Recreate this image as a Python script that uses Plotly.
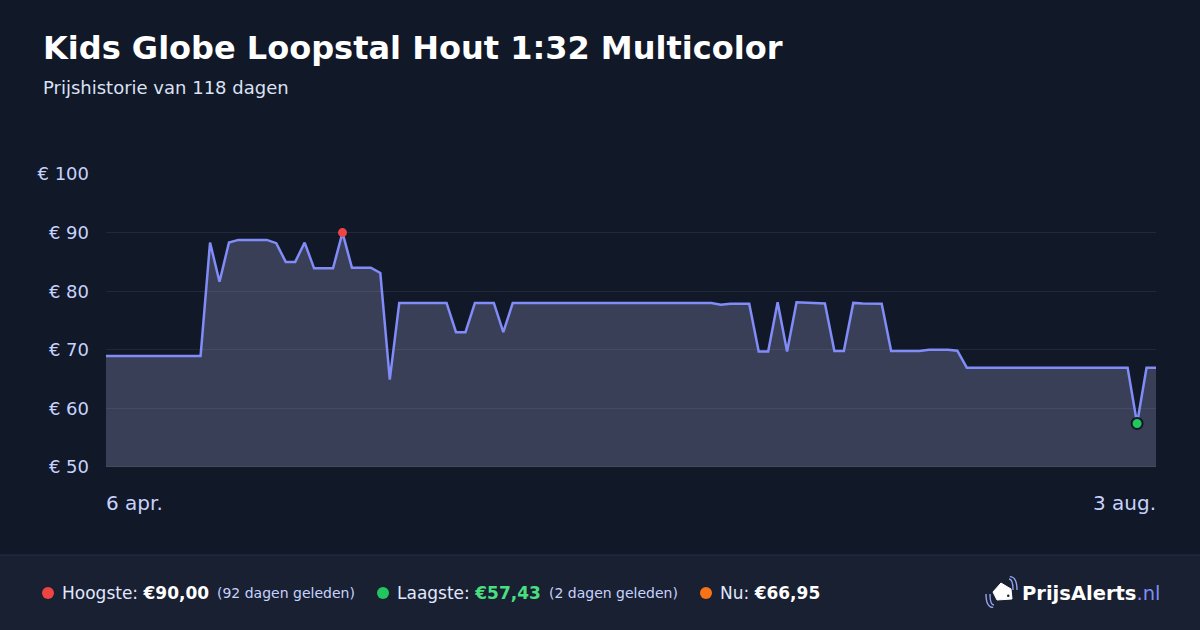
import plotly.graph_objects as go

# price history (sample index, price in euro)
sample_idx = [0, 10, 11, 12, 13, 14, 17, 18, 19, 20, 21, 22, 24, 25, 26, 28, 29, 30, 31, 36,
              37, 38, 39, 41, 42, 43, 64, 65, 66, 68, 69, 70, 71, 72, 73, 74, 75, 76, 77, 78,
              79, 80, 82, 83, 86, 87, 89, 90, 91, 108, 109, 110, 111]
prices = [68.95, 68.95, 88.3, 81.6, 88.3, 88.75, 88.75, 88.2, 85.0, 85.0,
          88.3, 83.9, 83.9, 90.0, 84.0, 84.0, 83.1, 64.9, 78.0, 78.0,
          73.0, 73.0, 78.0, 78.0, 73.0, 78.0, 78.0, 77.7, 77.85, 77.85,
          69.7, 69.7, 78.1, 69.7, 78.1, 78.05, 77.9, 77.9, 69.8, 69.8,
          78.0, 77.9, 77.85, 69.8, 69.8, 70.0, 70.0, 69.85, 66.95, 66.95,
          57.43, 66.95, 66.95]
date_labels = ["6 apr.", "3 aug."]
y_ticks = [50, 60, 70, 80, 90, 100]
y_labels = [f"€ {v}" for v in y_ticks]

title = "Kids Globe Loopstal Hout 1:32 Multicolor"
subtitle = "Prijshistorie van 118 dagen"

BG = "#111827"
FOOT = "#182031"
TXT = "#c7d2fe"

# plot area in pixels
L, R, T, B = 106, 1156, 174, 467


def px(x):
    return (x - L) / (R - L)


def py(y):
    return (B - y) / (B - T)


hi = prices.index(max(prices))
lo = prices.index(min(prices))

fig = go.Figure()
fig.add_trace(go.Scatter(
    x=sample_idx, y=prices, mode="lines",
    line=dict(color="#818cf8", width=2.5),
    fill="tozeroy", fillcolor="rgba(157,154,202,0.3)",
    hoverinfo="skip", showlegend=False,
))
fig.add_trace(go.Scatter(
    x=[sample_idx[hi]], y=[prices[hi]], mode="markers",
    marker=dict(color="#ef4444", size=9, line=dict(width=0)),
    showlegend=False,
))
fig.add_trace(go.Scatter(
    x=[sample_idx[lo]], y=[prices[lo]], mode="markers",
    marker=dict(color="#22c55e", size=11, line=dict(color=BG, width=2)),
    showlegend=False,
))

shapes = [
    dict(type="rect", xref="paper", yref="paper", x0=px(0), x1=px(1200),
         y0=py(630), y1=py(555), fillcolor=FOOT, line=dict(width=0), layer="below"),
    dict(type="line", xref="paper", yref="paper", x0=px(0), x1=px(1200),
         y0=py(555), y1=py(555), line=dict(color="#252e4a", width=1)),
    # base line of the chart
    dict(type="line", xref="paper", yref="y", x0=0, x1=1, y0=y_ticks[0], y1=y_ticks[0],
         line=dict(color="#4b5263", width=1.5)),
]
# legend dots in footer
for cx, col in [(48, "#ef4444"), (383, "#22c55e"), (706, "#f97316")]:
    shapes.append(dict(type="circle", xref="paper", yref="paper",
                       x0=px(cx - 6), x1=px(cx + 6), y0=py(599), y1=py(587),
                       fillcolor=col, line=dict(width=0)))


# logo icon: tag + signal arcs
def path(points, close=True):
    s = "M " + " L ".join(f"{px(a):.5f},{py(b):.5f}" for a, b in points)
    return s + (" Z" if close else "")


shapes.append(dict(type="path", xref="paper", yref="paper",
                   path=path([(1001, 583), (1011, 589), (1012, 599), (997, 600), (993, 592)]),
                   fillcolor="white", line=dict(color="white", width=1)))
shapes.append(dict(type="circle", xref="paper", yref="paper",
                   x0=px(1007), x1=px(1009.5), y0=py(597), y1=py(594.5),
                   fillcolor=FOOT, line=dict(width=0)))
for r in (5, 9):
    shapes.append(dict(type="path", xref="paper", yref="paper",
                       path=f"M {px(1008 + r * 0.2):.5f},{py(582 - r * 0.6):.5f} "
                            f"Q {px(1008 + r):.5f},{py(582 - r * 0.6):.5f} {px(1008 + r):.5f},{py(590):.5f}",
                       line=dict(color="#93a5f0", width=1.4)))
    shapes.append(dict(type="path", xref="paper", yref="paper",
                       path=f"M {px(995 - r):.5f},{py(594):.5f} "
                            f"Q {px(995 - r):.5f},{py(602 + r * 0.6):.5f} {px(995 - r * 0.2):.5f},{py(602 + r * 0.6):.5f}",
                       line=dict(color="#93a5f0", width=1.4)))

annotations = [
    dict(text=f"<b>{title}</b>", x=px(41), y=py(48), xanchor="left", yanchor="middle",
         font=dict(size=32, color="white")),
    dict(text=subtitle, x=px(41), y=py(87), xanchor="left", yanchor="middle",
         font=dict(size=18, color="#dbe2f5")),
    dict(text=date_labels[0], x=sample_idx[0], xref="x", y=py(503), xanchor="left",
         yanchor="middle", xshift=-2, font=dict(size=20, color=TXT)),
    dict(text=date_labels[1], x=sample_idx[-1], xref="x", y=py(503), xanchor="right",
         yanchor="middle", xshift=2, font=dict(size=20, color=TXT)),
    dict(text="Hoogste: <b><span style='color:white'>€90,00</span></b>", x=px(60), y=py(593),
         xanchor="left", yanchor="middle", font=dict(size=17, color="#e0e7ff")),
    dict(text="(92 dagen geleden)", x=px(215), y=py(593), xanchor="left", yanchor="middle",
         font=dict(size=14, color=TXT)),
    dict(text="Laagste: <b><span style='color:#4ade80'>€57,43</span></b>", x=px(395), y=py(593),
         xanchor="left", yanchor="middle", font=dict(size=17, color="#e0e7ff")),
    dict(text="(2 dagen geleden)", x=px(547), y=py(593), xanchor="left", yanchor="middle",
         font=dict(size=14, color=TXT)),
    dict(text="Nu: <b><span style='color:white'>€66,95</span></b>", x=px(718), y=py(593),
         xanchor="left", yanchor="middle", font=dict(size=17, color="#e0e7ff")),
    dict(text="<b>PrijsAlerts</b><span style='color:#818cf8'>.nl</span>", x=px(1020), y=py(593),
         xanchor="left", yanchor="middle", font=dict(size=19.5, color="white")),
]
for a in annotations:
    a.setdefault("xref", "paper")
    a["yref"] = "paper"
    a["showarrow"] = False

fig.update_layout(
    width=1200, height=630,
    margin=dict(l=L, r=1200 - R, t=T, b=630 - B, pad=0),
    paper_bgcolor=BG, plot_bgcolor=BG,
    font=dict(family="DejaVu Sans", color=TXT),
    xaxis=dict(range=[sample_idx[0], sample_idx[-1]], showgrid=False, zeroline=False,
               showticklabels=False, fixedrange=True),
    yaxis=dict(range=[50, 100], tickmode="array", tickvals=y_ticks, ticktext=y_labels,
               showgrid=True, gridcolor="rgba(148,163,184,0.13)", gridwidth=1, zeroline=False,
               tickfont=dict(size=18, color=TXT), ticklabelstandoff=16),
    shapes=shapes, annotations=annotations,
    showlegend=False,
)

fig.write_html("out.html", config={"displayModeBar": False},
               post_script="document.body.style.margin='0';")
